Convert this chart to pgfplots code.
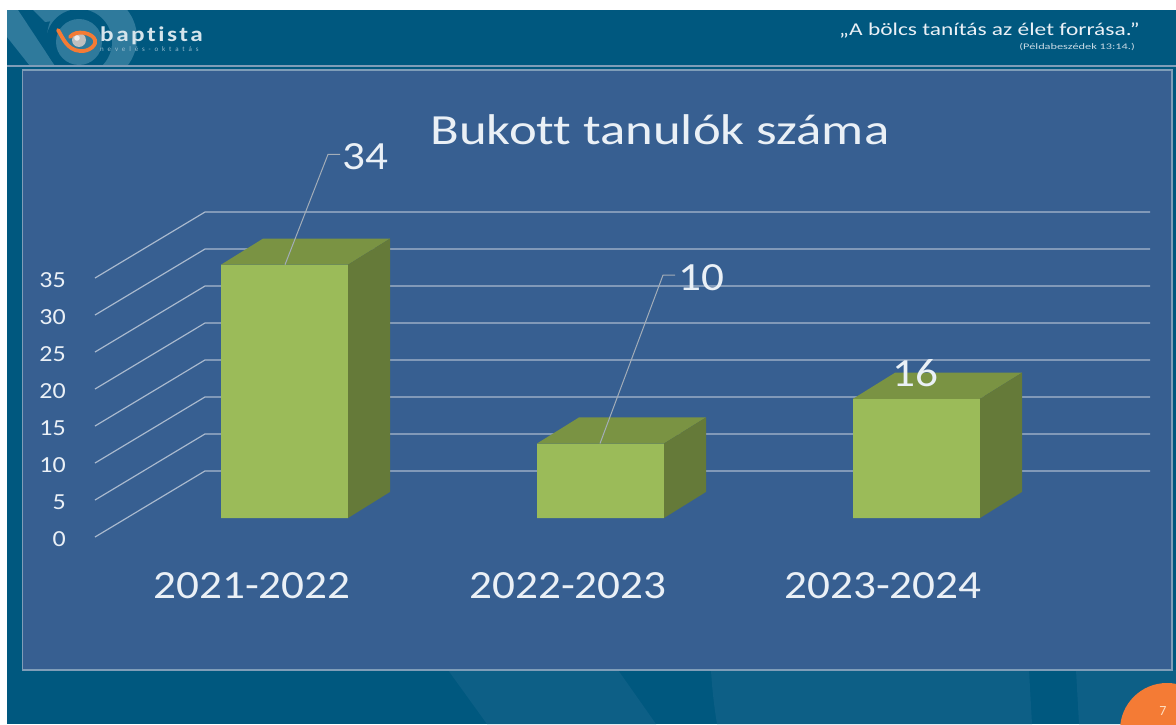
\documentclass[border=0pt]{standalone}
\usepackage{fontspec}
\usepackage{pgfplots}
\pgfplotsset{compat=1.18}
\setmainfont{Carlito}
\newfontfamily\cf[FakeStretch=1.13,Ligatures=CommonOff]{Carlito}
\newfontfamily\cft[FakeStretch=1.225,Ligatures=CommonOff]{Carlito}
\newfontfamily\cfq[FakeStretch=1.3,Ligatures=CommonOff]{Carlito}
\newfontfamily\cfp[FakeStretch=1.45,Ligatures=CommonOff]{Carlito}
\newfontfamily\cfl[LetterSpace=12,FakeStretch=1.2,Ligatures=CommonOff]{Carlito}
\newfontfamily\cfs[LetterSpace=55,Ligatures=CommonOff]{Carlito}
\definecolor{bgdark}{HTML}{00587F}
\definecolor{bglight}{HTML}{0D5F86}
\definecolor{panel}{HTML}{375F91}
\definecolor{panelline}{HTML}{7F9DB8}
\definecolor{gridc}{HTML}{A9B9CE}
\definecolor{barfront}{HTML}{9BBB59}
\definecolor{bartop}{HTML}{7A9343}
\definecolor{barside}{HTML}{657A39}
\definecolor{orng}{HTML}{F47B35}
\definecolor{txt}{HTML}{EAF0F6}
\definecolor{logol}{HTML}{2F7A9C}
\definecolor{leader}{HTML}{A3ADB8}
\begin{document}
\begin{tikzpicture}[x=1pt,y=1pt]
\useasboundingbox (0,0) rectangle (1176,724);
\fill[bgdark] (0,0) rectangle (1176,724);
% bottom decoration
\fill[bglight] (448,54) -- (487,0) -- (656,0) -- (618,54) -- cycle;
\fill[bglight] (711,54) .. controls (712,36) and (714,18) .. (717,0) -- (1032,0) .. controls (1031,18) and (1030,36) .. (1029,54) -- cycle;
\fill[bglight] (1076,54) -- (1079,0) -- (1176,0) -- (1176,54) -- cycle;
% orange page circle
\fill[orng] (1167,-6) circle (47);
\node[text=orange!25!white,font=\fontsize{14}{14}\selectfont] at (1163,13) {7};
% header logo
\begin{scope}
\clip (7,658) rectangle (1176,714);
\fill[logol] (92,686) circle (45);
\fill[logol] (7,714) -- (18,714) -- (55,658) -- (30,658) -- (7,687) -- cycle;
\fill[logol] (33,714) -- (62,714) -- (62,704) -- (45,702) -- cycle;
\fill[bgdark] (79,682) circle (33);
\fill[logol] (79,682) circle (23);
\fill[gray!50!white] (79,684) circle (7);
\fill[white!85!gray] (77,686) circle (2.8);
\draw[orng,line width=3.8pt,line cap=round] (58,694) .. controls (63,686) and (67,674) .. (80,673) .. controls (90,672) and (97,680) .. (95,684) .. controls (93,691) and (76,695) .. (70,687);
\end{scope}
\fill[panelline] (7,657) rectangle (1176,658.5);
\node[anchor=base west,inner sep=0pt,text=white!80!logol,font=\cfl\bfseries\fontsize{21}{21}\selectfont] at (100,682) {baptista};
\node[anchor=base west,inner sep=0pt,text=white!50!logol,font=\cfs\fontsize{7}{7}\selectfont] at (100,672) {nevelés-oktatás};
\node[anchor=base east,inner sep=0pt,text=txt,font=\cfq\fontsize{18}{18}\selectfont] at (1140,688) {„A bölcs tanítás az élet forrása.”};
\node[anchor=base east,inner sep=0pt,text=txt!85!bgdark,font=\cfp\fontsize{8.5}{8.5}\selectfont] at (1135,674) {(Példabeszédek 13:14.)};
% panel
\fill[panel,draw=panelline,line width=1.4pt] (22.5,54) rectangle (1172,654);
% title
\node[anchor=base,inner sep=0pt,text=txt,font=\cft\fontsize{43}{43}\selectfont] at (660,579) {Bukott tanulók száma};

% wall: value axis with grid
\begin{axis}[
  at={(95pt,187pt)}, anchor=south west, scale only axis,
  width=1055pt, height=325pt,
  xmin=95, xmax=1150, ymin=0, ymax=43.92,
  clip=false,
  axis line style={draw=none}, major tick length=0pt,
  xtick=\empty,
  ytick={0,5,10,15,20,25,30,35},
  /pgf/number format/assume math mode=true,
  yticklabel style={anchor=east,inner sep=0pt,xshift=-29pt,yshift=-2pt,text=txt,font=\fontsize{23}{23}\selectfont\cf},
]
\addplot[gridc,line width=1.2pt] coordinates {(95,0) (205,8.92) (1150,8.92)};
\addplot[gridc,line width=1.2pt] coordinates {(95,5) (205,13.92) (1150,13.92)};
\addplot[gridc,line width=1.2pt] coordinates {(95,10) (205,18.92) (1150,18.92)};
\addplot[gridc,line width=1.2pt] coordinates {(95,15) (205,23.92) (1150,23.92)};
\addplot[gridc,line width=1.2pt] coordinates {(95,20) (205,28.92) (1150,28.92)};
\addplot[gridc,line width=1.2pt] coordinates {(95,25) (205,33.92) (1150,33.92)};
\addplot[gridc,line width=1.2pt] coordinates {(95,30) (205,38.92) (1150,38.92)};
\addplot[gridc,line width=1.2pt] coordinates {(95,35) (205,43.92) (1150,43.92)};
\end{axis}

% bars
\begin{axis}[
  at={(95pt,206pt)}, anchor=south west, scale only axis,
  width=1055pt, height=298pt,
  xmin=95, xmax=1150, ymin=0, ymax=40,
  clip=false,
  axis line style={draw=none}, major tick length=0pt,
  ytick=\empty,
  xtick={252,568,883},
  xticklabels={2021-2022,2022-2023,2023-2024},
  xticklabel style={anchor=base,inner sep=0pt,yshift=-80pt,text=txt,font=\fontsize{40}{40}\selectfont\cf},
]
\addplot[ybar,bar width=127pt,fill=barfront,draw=none] coordinates {(284.5,34) (600.5,10) (916.5,16)};
\addplot[fill=bartop,draw=none] coordinates {(221,34) (348,34) (390,37.5) (263,37.5)} -- cycle;
\addplot[fill=barside,draw=none] coordinates {(348,0) (390,3.5) (390,37.5) (348,34)} -- cycle;
\addplot[fill=bartop,draw=none] coordinates {(537,10) (664,10) (706,13.5) (579,13.5)} -- cycle;
\addplot[fill=barside,draw=none] coordinates {(664,0) (706,3.5) (706,13.5) (664,10)} -- cycle;
\addplot[fill=bartop,draw=none] coordinates {(853,16) (980,16) (1022,19.5) (895,19.5)} -- cycle;
\addplot[fill=barside,draw=none] coordinates {(980,0) (1022,3.5) (1022,19.5) (980,16)} -- cycle;
\addplot[leader,line width=1pt] coordinates {(285,34) (328,48.8) (340,48.8)};
\addplot[leader,line width=1pt] coordinates {(600,10) (663,32.6) (675,32.6)};
\node[text=txt,inner sep=0pt,font=\fontsize{40}{40}\selectfont\cf] at (axis cs:365,48.5) {34};
\node[text=txt,inner sep=0pt,font=\fontsize{40}{40}\selectfont\cf] at (axis cs:701,32.3) {10};
\node[text=txt,inner sep=0pt,font=\fontsize{40}{40}\selectfont\cf] at (axis cs:915,19.4) {16};
\end{axis}
% white margins of the screenshot
\fill[white] (0,714) rectangle (1176,724);
\fill[white] (0,0) rectangle (7,724);
\end{tikzpicture}
\end{document}
